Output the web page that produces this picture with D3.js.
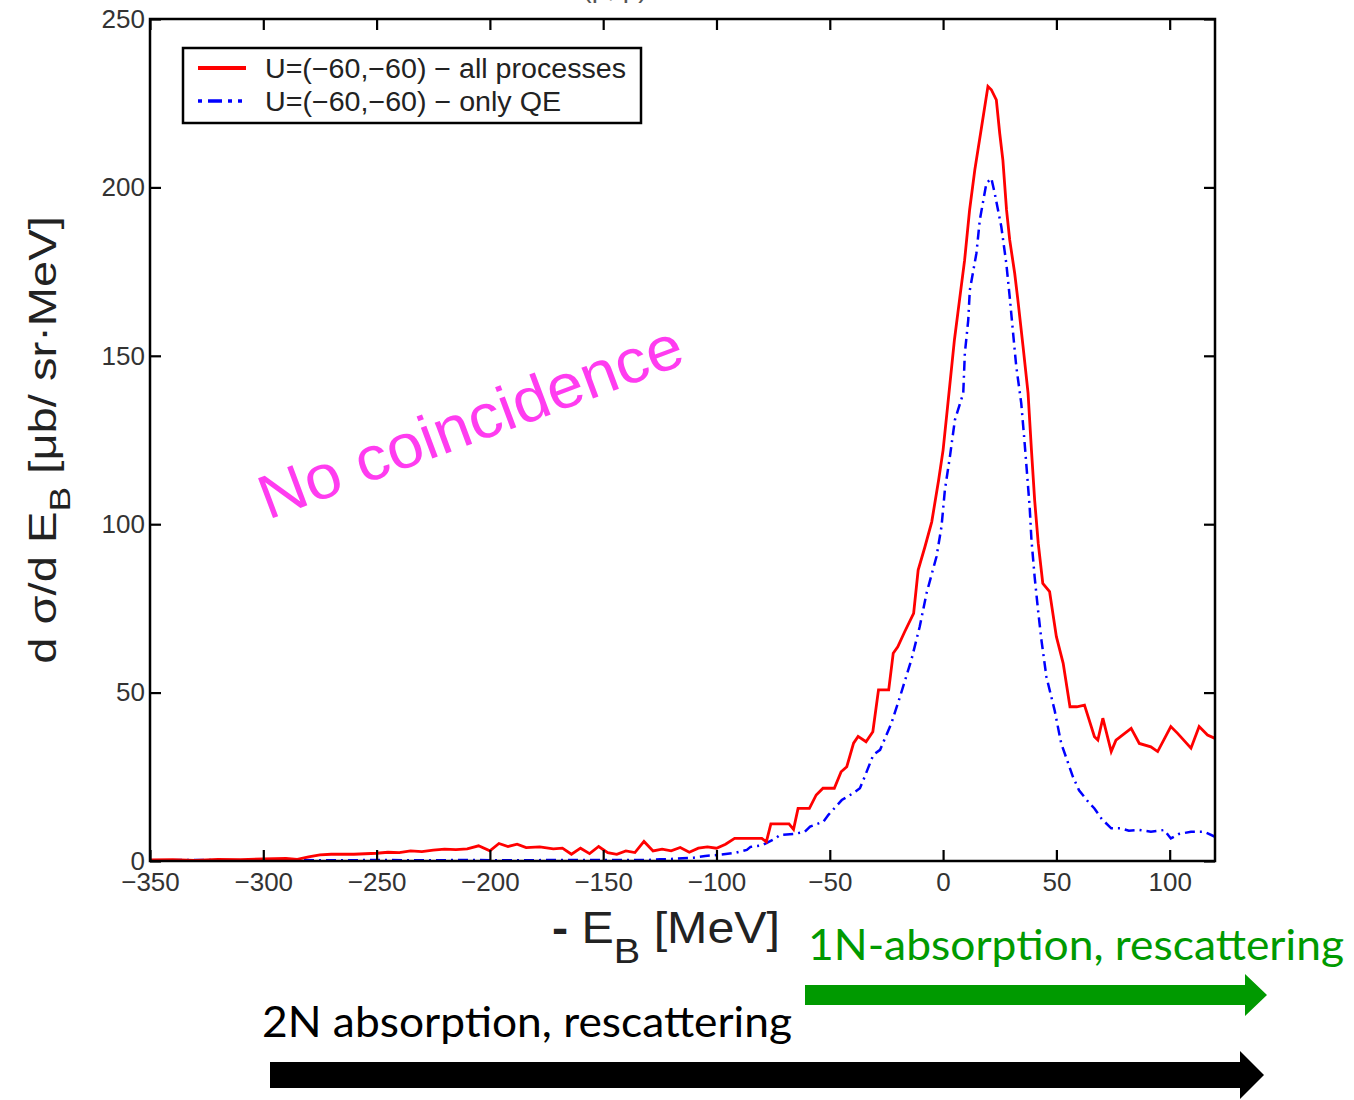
<!DOCTYPE html>
<html>
<head>
<meta charset="utf-8">
<script src="https://cdn.jsdelivr.net/npm/d3@7"></script>
<style>
  body { margin: 0; background: #fff; }
  svg { display: block; }
</style>
</head>
<body>
<div id="chart"></div>
<script>
const width = 1354;
const height = 1100;

const colorAll = '#ff0000';
const colorQE = '#0000ff';
const colorGreen = '#009a00';
const colorPink = '#ff3cf0';

// -E_B [MeV], dsigma/dE_B
const allProcesses = [
  [-350, 0.3], [-340, 0.4], [-330, 0.2], [-320, 0.5], [-310, 0.4], [-300, 0.6],
  [-290, 0.8], [-285, 0.5], [-280, 1.2], [-275, 1.8], [-270, 2.0], [-260, 2.0],
  [-250, 2.3], [-245, 2.6], [-240, 2.5], [-235, 3.0], [-230, 2.8], [-225, 3.2],
  [-220, 3.5], [-215, 3.4], [-210, 3.6], [-205, 4.5], [-200, 3.0], [-196, 5.2],
  [-192, 4.3], [-188, 5.0], [-184, 4.0], [-178, 4.2], [-172, 3.6], [-168, 3.8],
  [-164, 2.0], [-160, 3.8], [-156, 2.2], [-152, 4.3], [-148, 2.5], [-144, 2.0],
  [-140, 3.0], [-136, 2.5], [-132, 5.8], [-128, 3.0], [-124, 3.5], [-120, 3.0],
  [-116, 4.0], [-112, 2.6], [-108, 3.8], [-104, 4.2], [-100, 3.8], [-96, 5.0],
  [-92, 6.7], [-85, 6.7], [-80, 6.7], [-78, 5.7], [-76, 11.0], [-68, 11.0],
  [-66, 9.4], [-64, 15.6], [-59, 15.6], [-56, 19.6], [-53, 21.6], [-48, 21.6],
  [-45, 26.5], [-42.5, 28], [-39.5, 35], [-37.5, 37], [-34, 35.4], [-31, 38.4],
  [-28.5, 50.8], [-24, 50.8], [-22, 61.7], [-20, 63.6], [-17, 68], [-13, 73.5],
  [-11, 86.4], [-8, 93.3], [-5, 100.7], [-2, 113], [0, 122], [2, 135],
  [5, 154.7], [6.5, 162.6], [9.5, 178.4], [11.7, 193.3], [14, 205.2], [17, 218],
  [19.8, 230], [21.3, 229], [23.5, 226], [25, 216], [26.4, 208], [28, 193.3],
  [29.4, 184.4], [31.6, 174.5], [33, 166.6], [35.3, 152.7], [37.5, 138.9], [39, 122],
  [40.4, 107.2], [42, 94.3], [44, 82.4], [47, 80], [50, 66.6], [53, 58.7],
  [56, 45.8], [59, 45.8], [62.4, 46.3], [66.8, 36.9], [68.3, 35.9], [70.5, 42.4],
  [74.2, 32.5], [76.3, 35.9], [83, 39.4], [86.6, 34.9], [91.7, 33.9], [94.7, 32.5],
  [100.5, 39.9], [103.5, 37.9], [109.4, 33.5], [113, 39.9], [116.7, 37.4], [120, 36.4]
];

const onlyQE = [
  [-350, 0.2], [-330, 0.3], [-310, 0.2], [-290, 0.3], [-270, 0.2], [-250, 0.3],
  [-230, 0.2], [-210, 0.3], [-190, 0.2], [-170, 0.3], [-150, 0.3], [-130, 0.3],
  [-125, 0.5], [-120, 0.6], [-115, 0.8], [-110, 1.0], [-105, 1.5], [-99, 1.8],
  [-92, 2.4], [-86.6, 3.3], [-85, 4.2], [-80, 4.6], [-74, 6.7], [-72, 7.7],
  [-66, 8.0], [-61, 8.7], [-58.7, 10.2], [-52.8, 11.7], [-50.6, 13.7], [-44.7, 18.1],
  [-40, 20.0], [-36.7, 21.6], [-35.2, 24], [-30.8, 31.5], [-27.8, 33], [-22.8, 40.9],
  [-19, 48.8], [-14, 59.7], [-10.3, 69.6], [-7.3, 79.5], [-2.9, 90.4], [-0.7, 99.3],
  [0.8, 110.2], [3, 120], [5.2, 130.9], [8.9, 138.9], [9.6, 150.7], [11.1, 160.6],
  [11.8, 169.5], [14.7, 180.4], [16.2, 190.3], [19.1, 201.2], [21.3, 202.7], [22.8, 198.2],
  [25.7, 188.3], [27.9, 177.4], [29.4, 167.5], [30.9, 156.7], [32.3, 146.8], [34.5, 135.9],
  [36, 124], [38.2, 105.2], [39, 95.3], [40.4, 84.4], [41.9, 74.5], [43.4, 65.6],
  [45.6, 54.7], [49.2, 44.8], [52.1, 35], [57.3, 25], [60, 21], [64.6, 17.1],
  [66.8, 15.6], [70, 12.5], [74.2, 9.7], [78.5, 9.7], [82, 9.0], [86.6, 9.2],
  [91.7, 8.7], [97.6, 9.2], [100.5, 6.7], [104, 8.0], [109.4, 8.7], [115.2, 8.7], [120, 7.2]
];

const xTicks = [-350, -300, -250, -200, -150, -100, -50, 0, 50, 100];
const yTicks = [0, 50, 100, 150, 200, 250];
const legendLabels = ['U=(\u221260,\u221260) \u2212 all processes', 'U=(\u221260,\u221260) \u2212 only QE'];

const margin = {left: 150, right: 139, top: 19, bottom: 239};
const plotW = width - margin.left - margin.right;
const plotH = height - margin.top - margin.bottom;

const svg = d3.select('#chart')
    .append('svg')
    .attr('width', width)
    .attr('height', height);

const x = d3.scaleLinear().domain([-350, 120]).range([0, plotW]);
const y = d3.scaleLinear().domain([0, 250]).range([plotH, 0]);

const g = svg.append('g')
    .attr('transform', 'translate(' + margin.left + ',' + margin.top + ')');

// title, cut off by the top edge in the original
svg.append('text')
    .attr('x', 615).attr('y', -3)
    .attr('text-anchor', 'middle')
    .style('font-family', 'Liberation Sans')
    .style('font-size', '28px')
    .attr('fill', '#555')
    .text('(p, p)');

g.append('defs').append('clipPath').attr('id', 'clip')
  .append('rect').attr('width', plotW).attr('height', plotH);

const line = d3.line().x(d => x(d[0])).y(d => y(d[1]));

const curves = g.append('g').attr('clip-path', 'url(#clip)');
curves.append('path')
    .datum(onlyQE)
    .attr('d', line)
    .attr('fill', 'none')
    .attr('stroke', colorQE)
    .attr('stroke-width', 2.5)
    .attr('stroke-dasharray', '10,5,2,5');
curves.append('path')
    .datum(allProcesses)
    .attr('d', line)
    .attr('fill', 'none')
    .attr('stroke', colorAll)
    .attr('stroke-width', 2.8);

// axes, ticks inside on all four sides
const tickStyle = a => a.tickSizeOuter(0).tickSizeInner(-11).tickPadding(8);
const xAxis = g.append('g').attr('transform', 'translate(0,' + plotH + ')')
    .call(tickStyle(d3.axisBottom(x).tickValues(xTicks).tickFormat(d => d < 0 ? '\u2212' + (-d) : d)));
const xAxisTop = g.append('g')
    .call(tickStyle(d3.axisTop(x).tickValues(xTicks).tickFormat('')));
const yAxis = g.append('g')
    .call(tickStyle(d3.axisLeft(y).tickValues(yTicks)));
const yAxisRight = g.append('g').attr('transform', 'translate(' + plotW + ',0)')
    .call(tickStyle(d3.axisRight(y).tickValues(yTicks).tickFormat('')));

[xAxis, xAxisTop, yAxis, yAxisRight].forEach(a => {
  a.select('.domain').remove();
  a.selectAll('line').attr('stroke', '#000').attr('stroke-width', 2.2);
  a.selectAll('text')
    .style('font-family', 'Liberation Sans')
    .style('font-size', '26px')
    .attr('fill', '#333');
});
xAxis.selectAll('text').attr('dy', '0.85em');
yAxis.selectAll('text').attr('dx', '3');

g.append('rect')
    .attr('width', plotW).attr('height', plotH)
    .attr('fill', 'none').attr('stroke', '#000').attr('stroke-width', 2.5);

// legend
const legend = g.append('g').attr('transform', 'translate(33,29)');
legend.append('rect')
    .attr('width', 458).attr('height', 75)
    .attr('fill', '#fff').attr('stroke', '#000').attr('stroke-width', 2.5);
legendLabels.forEach((label, i) => {
  const ly = 20 + i * 33;
  legend.append('line')
    .attr('x1', 15).attr('x2', 63).attr('y1', ly).attr('y2', ly)
    .attr('stroke', i === 0 ? colorAll : colorQE)
    .attr('stroke-width', i === 0 ? 4 : 3.5)
    .attr('stroke-dasharray', i === 0 ? null : '4,6,14,6,4,6');
  legend.append('text')
    .attr('x', 82).attr('y', ly + 10)
    .style('font-family', 'Liberation Sans')
    .style('font-size', '27px')
    .attr('fill', '#222')
    .attr('textLength', i === 0 ? 361 : 296)
    .attr('lengthAdjust', 'spacingAndGlyphs')
    .text(label);
});

// axis titles
const yTitle = svg.append('text')
    .attr('transform', 'translate(56,440) rotate(-90) scale(1.24,1)')
    .attr('text-anchor', 'middle')
    .style('font-family', 'Liberation Sans')
    .style('font-size', '38px')
    .attr('fill', '#222');
yTitle.append('tspan').text('d \u03c3/d E');
yTitle.append('tspan').attr('dy', 14).style('font-size', '30px').text('B');
yTitle.append('tspan').attr('dy', -14).text(' [\u03bcb/ sr\u00b7MeV]');

const xTitle = svg.append('text')
    .attr('transform', 'translate(666,943) scale(1.1,1)')
    .attr('text-anchor', 'middle')
    .style('font-family', 'Liberation Sans')
    .style('font-size', '44px')
    .attr('fill', '#222');
xTitle.append('tspan').style('font-weight', 'bold').text('-');
xTitle.append('tspan').text(' E');
xTitle.append('tspan').attr('dy', 20).style('font-size', '36px').text('B');
xTitle.append('tspan').attr('dy', -20).text(' [MeV]');

// in-plot note
svg.append('text')
    .attr('transform', 'translate(268,520) rotate(-20.5)')
    .style('font-family', 'Liberation Sans')
    .style('font-size', '62px')
    .attr('fill', colorPink)
    .attr('textLength', 448)
    .attr('lengthAdjust', 'spacingAndGlyphs')
    .text('No coincidence');

// region annotations below the chart
svg.append('text')
    .attr('x', 808).attr('y', 960)
    .style('font-family', 'Lato')
    .style('font-size', '42px')
    .attr('fill', colorGreen)
    .attr('textLength', 536)
    .attr('lengthAdjust', 'spacingAndGlyphs')
    .text('1N-absorption, rescattering');

svg.append('text')
    .attr('x', 262).attr('y', 1037)
    .style('font-family', 'Lato')
    .style('font-size', '42px')
    .attr('fill', '#000')
    .attr('textLength', 530)
    .attr('lengthAdjust', 'spacingAndGlyphs')
    .text('2N absorption, rescattering');

function arrow(x0, x1, cy, bar, head, headLen, color) {
  const p = d3.path();
  p.moveTo(x0, cy - bar / 2);
  p.lineTo(x1 - headLen, cy - bar / 2);
  p.lineTo(x1 - headLen, cy - head / 2);
  p.lineTo(x1, cy);
  p.lineTo(x1 - headLen, cy + head / 2);
  p.lineTo(x1 - headLen, cy + bar / 2);
  p.lineTo(x0, cy + bar / 2);
  p.closePath();
  svg.append('path').attr('d', p.toString()).attr('fill', color);
}
arrow(805, 1267, 995, 20, 42, 22, colorGreen);
arrow(270, 1264, 1075, 26, 48, 24, '#000');
</script>
</body>
</html>
